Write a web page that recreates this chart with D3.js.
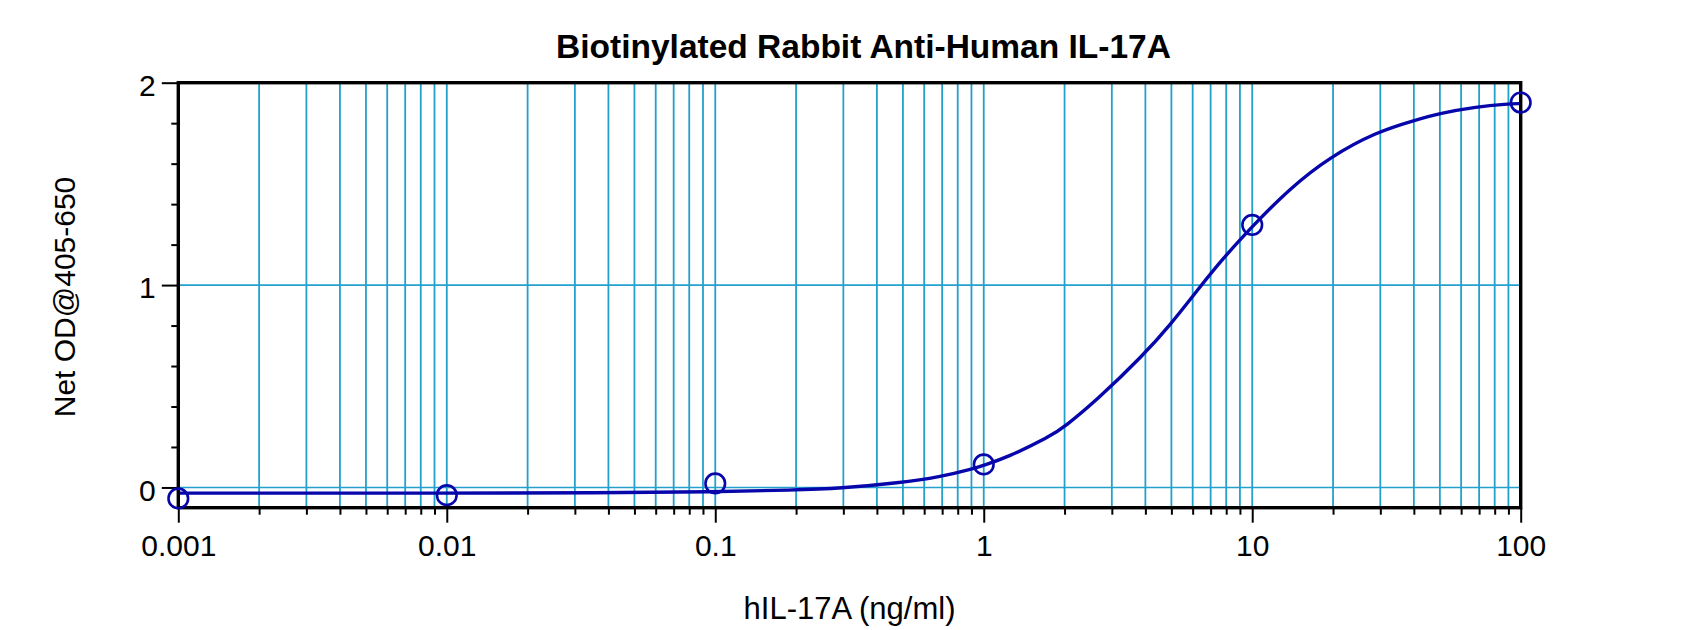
<!DOCTYPE html>
<html>
<head>
<meta charset="utf-8">
<script src="https://cdn.jsdelivr.net/npm/d3@7"></script>
<style>
  body { margin: 0; background: #fff; }
  text { font-family: "Liberation Sans", Arial, sans-serif; }
</style>
</head>
<body>
<div id="chart"></div>
<script>
// measured standard points
var pointX = [0.001, 0.01, 0.1, 1, 10, 100];
var pointY = [-0.054, -0.038, 0.02, 0.114, 1.297, 1.902];

// fitted curve
var curveX = [0.001, 0.01, 0.037, 0.1, 0.195, 0.291, 0.487, 0.687, 0.91, 1, 1.22, 1.76, 2.0, 2.63,
              3.93, 4.93, 6.38, 7.69, 10, 13.8, 19.5, 29.2, 39.8, 50, 68.5, 88.7, 100];
var curveY = [-0.028, -0.028, -0.027, -0.022, -0.013, -0.005, 0.023, 0.052, 0.092, 0.11, 0.148, 0.25, 0.30, 0.43,
              0.654, 0.80, 0.99, 1.124, 1.29, 1.478, 1.634, 1.758, 1.812, 1.849, 1.881, 1.895, 1.897];

var xTicks = [0.001, 0.01, 0.1, 1, 10, 100];
var xTickLabels = ["0.001", "0.01", "0.1", "1", "10", "100"];
var yTicks = [0, 1, 2];
var yMinorTicks = [0.2, 0.4, 0.6, 0.8, 1.2, 1.4, 1.6, 1.8];

var title = "Biotinylated Rabbit Anti-Human IL-17A";
var xTitle = "hIL-17A (ng/ml)";
var yTitle = "Net OD@405-650";

function init(){
    var w = 1700;
    var h = 630;
    var margin = {top: 82.7, right: 179.3, bottom: 122.3, left: 178.3};
    var pw = w - margin.left - margin.right;
    var ph = h - margin.top - margin.bottom;

    var gridColor = "#23a0cc";
    var lineColor = "#0606aa";

    // minor decade values for gridlines / small ticks
    var xMinor = [];
    for (var e = -3; e < 2; e++) {
        for (var m = 2; m <= 9; m++) {
            xMinor.push(m * Math.pow(10, e));
        }
    }
    var xGrid = xMinor.concat([0.01, 0.1, 1, 10]);

    var xScale = d3.scaleLog()
                .domain([0.001, 100])
                .range([0, pw]);

    var yScale = d3.scaleLinear()
                .domain([-0.1, 2])
                .range([ph, 0]);

    var svg = d3.select("#chart")
                .append("svg")
                .attr("width", w)
                .attr("height", h);

    var g = svg.append("g")
               .attr("transform", "translate(" + margin.left + "," + margin.top + ")");

    // vertical gridlines
    g.selectAll(".vgrid")
     .data(xGrid)
     .enter()
     .append("line")
     .attr("class", "vgrid")
     .attr("x1", function(d){ return xScale(d); })
     .attr("x2", function(d){ return xScale(d); })
     .attr("y1", 0)
     .attr("y2", ph)
     .attr("stroke", gridColor)
     .attr("stroke-width", 1.8);

    // horizontal gridlines
    g.selectAll(".hgrid")
     .data([0, 1])
     .enter()
     .append("line")
     .attr("class", "hgrid")
     .attr("x1", 0)
     .attr("x2", pw)
     .attr("y1", function(d){ return yScale(d); })
     .attr("y2", function(d){ return yScale(d); })
     .attr("stroke", gridColor)
     .attr("stroke-width", 1.6);

    // minor ticks
    var xMinorAxis = d3.axisBottom(xScale)
                .tickValues(xMinor)
                .tickSize(7)
                .tickSizeOuter(0)
                .tickFormat("");
    g.append("g")
     .attr("transform", "translate(0," + ph + ")")
     .call(xMinorAxis)
     .call(function(s){ s.select(".domain").remove(); })
     .selectAll("line").attr("stroke-width", 2);

    var yMinorAxis = d3.axisLeft(yScale)
                .tickValues(yMinorTicks)
                .tickSize(7)
                .tickSizeOuter(0)
                .tickFormat("");
    g.append("g")
     .call(yMinorAxis)
     .call(function(s){ s.select(".domain").remove(); })
     .selectAll("line").attr("stroke-width", 2);

    // major axes
    var xAxis = d3.axisBottom(xScale)
                .tickValues(xTicks)
                .tickSize(15)
                .tickSizeOuter(0)
                .tickPadding(12)
                .tickFormat(function(d, i){ return xTickLabels[i]; });
    var xg = g.append("g")
     .attr("transform", "translate(0," + ph + ")")
     .call(xAxis);
    xg.select(".domain").remove();
    xg.selectAll("line").attr("stroke-width", 2);
    xg.selectAll("text")
      .attr("font-size", "30px")
      .attr("font-family", "Liberation Sans, Arial, sans-serif")
      .attr("fill", "#000");

    var yAxis = d3.axisLeft(yScale)
                .tickValues(yTicks)
                .tickSize(16.5)
                .tickSizeOuter(0)
                .tickPadding(6)
                .tickFormat(d3.format("d"));
    var yg = g.append("g").call(yAxis);
    yg.select(".domain").remove();
    yg.selectAll("line").attr("stroke-width", 2);
    yg.selectAll("text")
      .attr("font-size", "30px")
      .attr("font-family", "Liberation Sans, Arial, sans-serif")
      .attr("dy", "0.42em")
      .attr("fill", "#000");

    // fitted curve
    var curveData = curveX.map(function(d, i){ return [d, curveY[i]]; });
    var line = d3.line()
                .x(function(d){ return xScale(d[0]); })
                .y(function(d){ return yScale(d[1]); })
                .curve(d3.curveBasis);

    g.append("path")
     .datum(curveData)
     .attr("d", line)
     .attr("fill", "none")
     .attr("stroke", lineColor)
     .attr("stroke-width", 3.4);

    // frame
    g.append("rect")
     .attr("x", 0)
     .attr("y", 0)
     .attr("width", pw)
     .attr("height", ph)
     .attr("fill", "none")
     .attr("stroke", "#000")
     .attr("stroke-width", 3.4);

    // points
    g.selectAll("circle")
     .data(pointX)
     .enter()
     .append("circle")
     .attr("cx", function(d){ return xScale(d); })
     .attr("cy", function(d, i){ return yScale(pointY[i]); })
     .attr("r", 9.8)
     .attr("fill", "none")
     .attr("stroke", lineColor)
     .attr("stroke-width", 2.6);

    // titles
    svg.append("text")
       .text(title)
       .attr("x", margin.left + pw / 2 + 14)
       .attr("y", 58)
       .attr("text-anchor", "middle")
       .attr("font-size", "33.5px")
       .attr("font-weight", "bold");

    svg.append("text")
       .text(xTitle)
       .attr("x", margin.left + pw / 2)
       .attr("y", 619)
       .attr("text-anchor", "middle")
       .attr("font-size", "31px");

    svg.append("text")
       .text(yTitle)
       .attr("transform", "translate(75," + 297 + ") rotate(-90)")
       .attr("text-anchor", "middle")
       .attr("font-size", "30px");
}
window.onload = init;
</script>
</body>
</html>
